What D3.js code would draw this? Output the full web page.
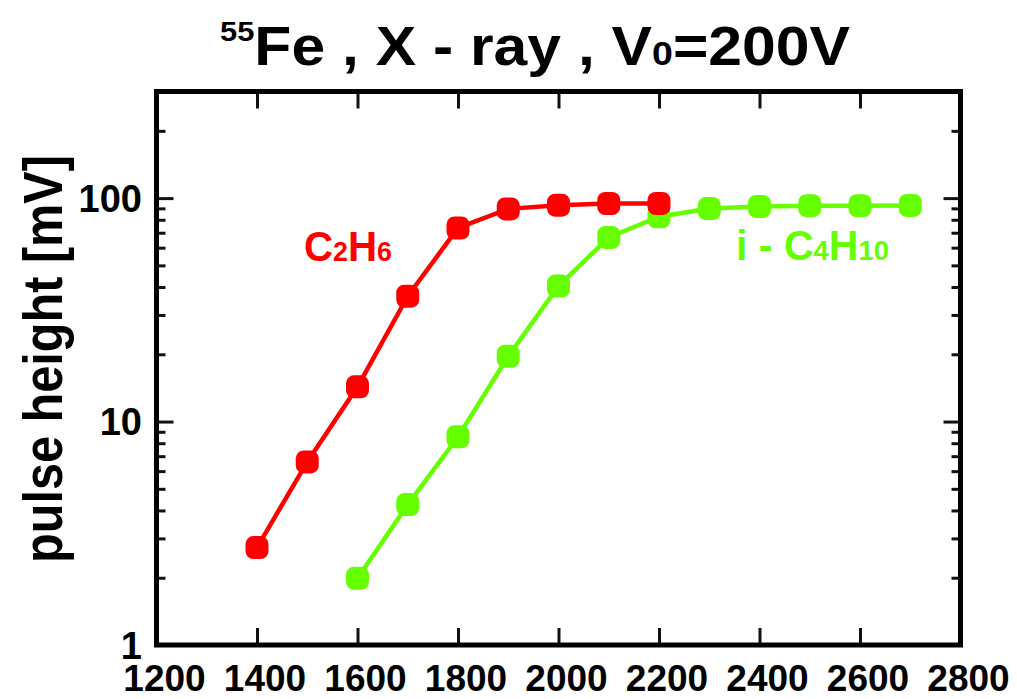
<!DOCTYPE html>
<html>
<head>
<meta charset="utf-8">
<script src="https://cdn.jsdelivr.net/npm/d3@7"></script>
<style>
  html, body { margin: 0; padding: 0; background: #fff; }
  svg { display: block; font-family: "Liberation Sans", Arial, sans-serif; font-weight: bold; }
</style>
</head>
<body>
<svg id="chart" width="1017" height="699"></svg>
<script>
// Drift voltage scan with 55Fe source
const voltages = [1200, 1400, 1600, 1800, 2000, 2200, 2400, 2600, 2800];   // x tick labels
const yTickLabels = [1, 10, 100];

const c2h6Voltage = [1400, 1500, 1600, 1700, 1800, 1900, 2000, 2100, 2200];
const c2h6Height  = [2.73, 6.6, 14.3, 36.4, 73.5, 89.5, 93.0, 94.6, 94.6];

const ic4h10Voltage = [1600, 1700, 1800, 1900, 2000, 2100, 2200, 2300, 2400, 2500, 2600, 2700];
const ic4h10Height  = [1.99, 4.25, 8.55, 19.6, 40.4, 66.7, 82.5, 89.8, 91.8, 92.5, 92.5, 92.7];

const svg = d3.select("#chart");
const plotLeft = 156.5, plotRight = 960.5, plotTop = 91.5, plotBottom = 645;

const x = d3.scaleLinear().domain([1200, 2800]).range([plotLeft, plotRight]);
const y = d3.scaleLog().domain([1, 300]).range([plotBottom, plotTop]);

// minor tick values (2..9 per decade, up to 200)
const minor = [];
for (let d = 1; d <= 100; d *= 10) {
  for (let k = 2; k <= 9; k++) {
    const v = k * d;
    if (v < 300) minor.push(v);
  }
}

const tickStroke = "#111";
function styleTicks(g) {
  g.select(".domain").remove();
  g.selectAll("line").attr("stroke", tickStroke).attr("stroke-width", 3);
}

// left axis ticks (inward)
svg.append("g").attr("transform", `translate(${plotLeft},0)`)
  .call(d3.axisRight(y).tickValues(yTickLabels).tickSize(17).tickFormat(""))
  .call(styleTicks);
svg.append("g").attr("transform", `translate(${plotLeft},0)`)
  .call(d3.axisRight(y).tickValues(minor).tickSize(9).tickFormat(""))
  .call(styleTicks);
// right axis ticks (inward)
svg.append("g").attr("transform", `translate(${plotRight},0)`)
  .call(d3.axisLeft(y).tickValues(yTickLabels).tickSize(17).tickFormat(""))
  .call(styleTicks);
svg.append("g").attr("transform", `translate(${plotRight},0)`)
  .call(d3.axisLeft(y).tickValues(minor).tickSize(9).tickFormat(""))
  .call(styleTicks);

// bottom & top ticks (inward)
svg.append("g").attr("transform", `translate(0,${plotBottom})`)
  .call(d3.axisTop(x).tickValues(voltages).tickSize(17).tickFormat(""))
  .call(styleTicks);
svg.append("g").attr("transform", `translate(0,${plotTop})`)
  .call(d3.axisBottom(x).tickValues(voltages).tickSize(17).tickFormat(""))
  .call(styleTicks);

// frame
svg.append("rect")
  .attr("x", plotLeft).attr("y", plotTop)
  .attr("width", plotRight - plotLeft).attr("height", plotBottom - plotTop)
  .attr("fill", "none").attr("stroke", "#000").attr("stroke-width", 5);

// tick labels
svg.append("g").selectAll("text").data(voltages).join("text")
  .attr("x", d => x(d) + 8).attr("y", 691)
  .attr("text-anchor", "middle")
  .attr("font-size", 37).attr("fill", "#000")
  .text(d => d);

svg.append("g").selectAll("text").data(yTickLabels).join("text")
  .attr("x", 142).attr("y", d => y(d))
  .attr("dy", "0.36em")
  .attr("text-anchor", "end")
  .attr("font-size", 38).attr("fill", "#000")
  .text(d => d);

// axis title
svg.append("text")
  .attr("transform", "translate(62,359) rotate(-90)")
  .attr("text-anchor", "middle")
  .attr("font-size", 56)
  .attr("textLength", 408).attr("lengthAdjust", "spacingAndGlyphs")
  .attr("fill", "#000")
  .text("pulse height [mV]");

// chart title
const title = svg.append("text")
  .attr("x", 220).attr("y", 65)
  .attr("font-size", 55).attr("fill", "#000")
  .attr("textLength", 630).attr("lengthAdjust", "spacingAndGlyphs");
title.append("tspan").attr("font-size", 28).attr("dy", -24).text("55");
title.append("tspan").attr("dy", 24).text("Fe  ,  X - ray  ,  V");
title.append("tspan").attr("font-size", 34).text("0");
title.append("tspan").text("=200V");

// series
const series = [
  { name: "i-C4H10", xs: ic4h10Voltage, ys: ic4h10Height, color: "#66ff00" },
  { name: "C2H6", xs: c2h6Voltage, ys: c2h6Height, color: "#ff0000" }
];
const line = d3.line().x(d => x(d[0])).y(d => y(d[1]));
const ms = 23;
series.forEach(s => {
  const pts = s.xs.map((v, i) => [v, s.ys[i]]);
  const g = svg.append("g");
  g.append("path").datum(pts)
    .attr("d", line).attr("fill", "none")
    .attr("stroke", s.color).attr("stroke-width", 4.5);
  g.selectAll("rect").data(pts).join("rect")
    .attr("x", d => x(d[0]) - ms / 2).attr("y", d => y(d[1]) - ms / 2)
    .attr("width", ms).attr("height", ms).attr("rx", 8)
    .attr("fill", s.color);
});

// series labels
const lab1 = svg.append("text").attr("x", 304).attr("y", 261)
  .attr("font-size", 42).attr("fill", "#ff0000")
  .attr("textLength", 88).attr("lengthAdjust", "spacingAndGlyphs");
lab1.append("tspan").text("C");
lab1.append("tspan").attr("font-size", 28).text("2");
lab1.append("tspan").text("H");
lab1.append("tspan").attr("font-size", 28).text("6");

const lab2 = svg.append("text").attr("x", 736).attr("y", 260)
  .attr("font-size", 42).attr("fill", "#66ff00")
  .attr("textLength", 153).attr("lengthAdjust", "spacingAndGlyphs");
lab2.append("tspan").text("i - C");
lab2.append("tspan").attr("font-size", 28).text("4");
lab2.append("tspan").text("H");
lab2.append("tspan").attr("font-size", 28).text("10");
</script>
</body>
</html>
